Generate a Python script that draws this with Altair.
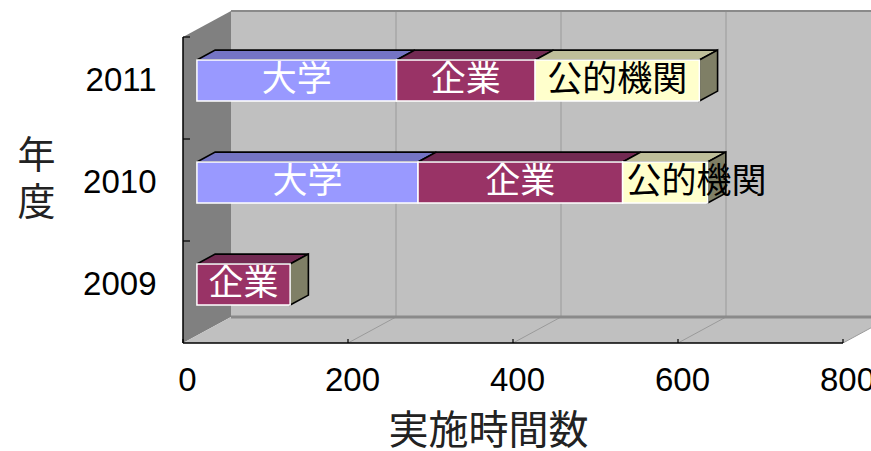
import json
import altair as alt
import pandas as pd

# ---- data -------------------------------------------------------------
years = ["2009", "2010", "2011"]
segments = ["大学", "企業", "公的機関"]
daigaku = [0, 268, 242]     # 大学
kigyo = [113, 248, 168]     # 企業
koteki = [0, 103, 199]      # 公的機関
x_ticks = [0, 200, 400, 600, 800]

front_colors = ["#9999FF", "#993366", "#FFFFCC"]
top_colors = ["#7474C4", "#722A52", "#BFBF9A"]
label_colors = ["white", "white", "black"]
side_color = "#7F7F66"

# ---- pseudo-3D projection (oblique), expressed in data units ----------
W, H = 688, 343                 # plot area in px
PX_X = 660 / 800                # px per hour
PX_Y = 102                      # px per category band
XMAX, YMAX = W / PX_X, H / PX_Y
DEPTH_X = 48 / PX_X             # wall depth, x shift
DEPTH_Y = 26 / PX_Y             # wall depth, y shift
Z_FRONT, Z_BACK = 0.29, 0.67    # bar front / back planes (fraction of depth)
HALF_H = 20.5 / PX_Y            # half bar thickness
BAR_DX = (Z_BACK - Z_FRONT) * DEPTH_X
BAR_DY = (Z_BACK - Z_FRONT) * DEPTH_Y
N = len(years)
LABEL_FS = 35

JP = "Noto Sans CJK JP"
NUM = "Liberation Sans"

values = [daigaku, kigyo, koteki]
front_rows, top_rows, side_rows = [], [], []
for i, yr in enumerate(years):
    start = 0.0
    yc = i + 0.5 + Z_FRONT * DEPTH_Y
    lo, hi = yc - HALF_H, yc + HALF_H
    last_end = None
    for k, seg in enumerate(segments):
        v = values[k][i]
        if v <= 0:
            continue
        x0 = start + Z_FRONT * DEPTH_X
        x1 = x0 + v
        fits = v * PX_X >= len(seg) * LABEL_FS + 8
        front_rows.append(dict(x=x0, x2=x1, y=lo, y2=hi, fill=front_colors[k],
                               label=seg, tc=label_colors[k],
                               xm=(x0 + x1) / 2, ym=yc, fits=fits))
        sid = f"{yr}-{k}"
        for px, py, py2 in [(x0, hi, hi), (x0 + BAR_DX, hi, hi + BAR_DY),
                            (x1, hi, hi + BAR_DY), (x1 + BAR_DX, hi + BAR_DY, hi + BAR_DY)]:
            top_rows.append(dict(id=sid, x=px, y=py, y2=py2, fill=top_colors[k]))
        start += v
        last_end = (x1, lo, hi)
    if last_end:
        x1, lo_, hi_ = last_end
        side_rows.append(dict(id=yr, x=x1, y=lo_, y2=hi_, fill=side_color))
        side_rows.append(dict(id=yr, x=x1 + BAR_DX, y=lo_ + BAR_DY, y2=hi_ + BAR_DY, fill=side_color))

front_df = pd.DataFrame(front_rows)
top_df = pd.DataFrame(top_rows)
side_df = pd.DataFrame(side_rows)

# ---- scales & axes ----------------------------------------------------
XS = alt.Scale(domain=[0, XMAX], nice=False, zero=False)
YS = alt.Scale(domain=[0, YMAX], nice=False, zero=False)

XAX = alt.Axis(values=x_ticks, title="実施時間数", grid=False, domain=False,
               ticks=False, tickSize=0, labelFont=NUM, labelFontSize=33,
               labelColor="black", labelPadding=21, labelFlush=False,
               labelOffset=4, labelOverlap=False,
               titleFont=JP, titleFontSize=40, titleFontWeight="normal",
               titleColor="#222222", titleX=305, titleY=88,
               titleAlign="center", titleBaseline="middle")
YAX = alt.Axis(values=[i + 0.5 + Z_FRONT * DEPTH_Y for i in range(N)],
               labelExpr=f"{json.dumps(years)}[floor(datum.value)]",
               title=["年", "度"], grid=False, domain=False, ticks=False,
               tickSize=0, labelFont=NUM, labelFontSize=33, labelColor="black",
               labelPadding=27, labelOverlap=False,
               titleFont=JP, titleFontSize=38, titleFontWeight="normal",
               titleColor="#222222", titleAngle=0, titleX=-147, titleY=156,
               titleAlign="center", titleBaseline="middle", titleLineHeight=47)


def X(f="x"):
    return alt.X(f"{f}:Q", scale=XS, axis=XAX)


def Y(f="y"):
    return alt.Y(f"{f}:Q", scale=YS, axis=YAX, stack=None)


# ---- walls and floor --------------------------------------------------
back_wall = alt.Chart(pd.DataFrame([dict(x=DEPTH_X, x2=800 + DEPTH_X, y=DEPTH_Y, y2=3 + DEPTH_Y)])
                      ).mark_rect(fill="#C0C0C0", clip=True).encode(
    x=X(), x2="x2:Q", y=Y(), y2="y2:Q")

left_wall = alt.Chart(pd.DataFrame([dict(x=0, y=0, y2=3), dict(x=DEPTH_X, y=DEPTH_Y, y2=3 + DEPTH_Y)])
                      ).mark_area(fill="#808080", clip=True).encode(
    x=X(), y=Y(), y2="y2:Q")

floor = alt.Chart(pd.DataFrame([dict(x=0, y=0, y2=0), dict(x=DEPTH_X, y=0, y2=DEPTH_Y),
                                dict(x=800, y=0, y2=DEPTH_Y),
                                dict(x=800 + DEPTH_X, y=DEPTH_Y, y2=DEPTH_Y)])
                  ).mark_area(fill="#C0C0C0", clip=True).encode(
    x=X(), y=Y(), y2="y2:Q")

wall_edges = alt.Chart(pd.DataFrame([dict(x=DEPTH_X, x2=800 + DEPTH_X, y=DEPTH_Y, w=3),
                                     dict(x=DEPTH_X, x2=800 + DEPTH_X, y=3 + DEPTH_Y, w=2)])
                       ).mark_rule(color="#8A8A8A", clip=True).encode(
    x=X(), x2="x2:Q", y=Y(), strokeWidth=alt.StrokeWidth("w:Q", scale=None))

grid_df = pd.DataFrame([dict(x=v + DEPTH_X, y=DEPTH_Y, y2=3 + DEPTH_Y) for v in x_ticks[1:-1]])
grid = alt.Chart(grid_df).mark_rule(color="#9A9A9A", strokeWidth=1, clip=True).encode(
    x=X(), y=Y(), y2="y2:Q")

diag_df = pd.DataFrame([dict(x=v, x2=v + DEPTH_X, y=0, y2=DEPTH_Y) for v in x_ticks[1:]])
diag = alt.Chart(diag_df).mark_rule(color="#9A9A9A", strokeWidth=1, clip=True).encode(
    x=X(), x2="x2:Q", y=Y(), y2="y2:Q")

# ---- front axis lines and inward ticks --------------------------------
axis_lines = alt.Chart(pd.DataFrame([dict(x=0, x2=800, y=0, y2=0), dict(x=0, x2=0, y=0, y2=3)])
                       ).mark_rule(color="black", strokeWidth=1.5).encode(
    x=X(), x2="x2:Q", y=Y(), y2="y2:Q")
xt = alt.Chart(pd.DataFrame([dict(x=v, y=0, y2=4 / PX_Y) for v in x_ticks])
               ).mark_rule(color="black", strokeWidth=1.2).encode(x=X(), y=Y(), y2="y2:Q")
yt = alt.Chart(pd.DataFrame([dict(x=0, x2=7 / PX_X, y=v) for v in range(1, N + 1)])
               ).mark_rule(color="black", strokeWidth=1.2).encode(x=X(), x2="x2:Q", y=Y())

# ---- bars -------------------------------------------------------------
tops = alt.Chart(top_df).mark_area(stroke="black", strokeWidth=1.6, strokeJoin="miter").encode(
    x=X(), y=Y(), y2="y2:Q", detail="id:N", fill=alt.Fill("fill:N", scale=None))
sides = alt.Chart(side_df).mark_area(stroke="black", strokeWidth=1.6, strokeJoin="miter").encode(
    x=X(), y=Y(), y2="y2:Q", detail="id:N", fill=alt.Fill("fill:N", scale=None))
fronts = alt.Chart(front_df).mark_rect(stroke="white", strokeWidth=1.5).encode(
    x=X(), x2="x2:Q", y=Y(), y2="y2:Q", fill=alt.Fill("fill:N", scale=None))

labels_c = alt.Chart(front_df).transform_filter("datum.fits").mark_text(
    font=JP, fontSize=LABEL_FS, align="center", baseline="middle").encode(
    x=X("xm"), y=Y("ym"), text="label:N", color=alt.Color("tc:N", scale=None))
labels_l = alt.Chart(front_df).transform_filter("!datum.fits").mark_text(
    font=JP, fontSize=LABEL_FS, align="left", baseline="middle", dx=4).encode(
    x=X("x"), y=Y("ym"), text="label:N", color=alt.Color("tc:N", scale=None))

chart = alt.layer(back_wall, left_wall, floor, grid, diag, wall_edges, axis_lines, xt, yt,
                  tops, sides, fronts, labels_c, labels_l).properties(
    width=W, height=H,
    padding={"left": 183, "top": 0, "right": 0, "bottom": 108},
    autosize=alt.AutoSizeParams(type="none"),
    background="white",
).configure_view(strokeWidth=0)

chart.save("out.html", embed_options={"renderer": "svg", "actions": False})
